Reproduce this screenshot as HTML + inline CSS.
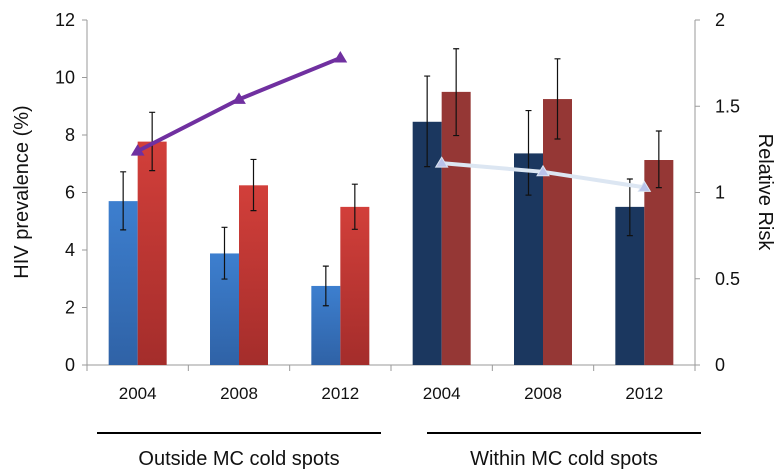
<!DOCTYPE html>
<html><head><meta charset="utf-8"><style>
html,body{margin:0;padding:0;background:#fff;}
svg{display:block;font-family:"Liberation Sans",sans-serif;}
</style></head><body>
<svg id="chart" width="784" height="471" viewBox="0 0 784 471">
<defs>
<linearGradient id="gBlue" x1="0" y1="0" x2="0" y2="1"><stop offset="0" stop-color="#3d7fcf"/><stop offset="1" stop-color="#2f62a6"/></linearGradient>
<linearGradient id="gRed" x1="0" y1="0" x2="0" y2="1"><stop offset="0" stop-color="#d23f3a"/><stop offset="1" stop-color="#a42d2b"/></linearGradient>
</defs>
<g id="axes"></g><g id="bars"></g><g id="errs"></g><g id="lines"></g><g id="labels"></g>
</svg>
<script>
const years = ["2004","2008","2012","2004","2008","2012"];
const groupLabels = ["Outside MC cold spots","Within MC cold spots"];
const leftTicks = [0,2,4,6,8,10,12];
const rightTicks = ["0","0.5","1","1.5","2"];
const maleValues = [5.7,3.88,2.75,8.46,7.36,5.5];
const maleLow = [4.7,2.99,2.06,6.9,5.91,4.5];
const maleHigh = [6.72,4.79,3.44,10.05,8.85,6.47];
const femaleValues = [7.77,6.25,5.5,9.5,9.25,7.13];
const femaleLow = [6.76,5.37,4.72,7.98,7.86,6.17];
const femaleHigh = [8.79,7.15,6.29,11.0,10.65,8.14];
const rrOutside = [1.24,1.54,1.78];
const rrWithin = [1.17,1.12,1.03];

const NS="http://www.w3.org/2000/svg";
const X0=87,X1=695,Y0=365,Y1=20;
const gw=(X1-X0)/6;
const yL=v=>Y0-(v/12)*(Y0-Y1);
const yR=v=>Y0-(v/2)*(Y0-Y1);
const xc=i=>X0+gw*(i+0.5);
function mk(tag,attrs,parent,text){const e=document.createElementNS(NS,tag);for(const k in attrs)e.setAttribute(k,attrs[k]);if(text!==undefined)e.textContent=text;document.getElementById(parent).appendChild(e);return e;}

// axes
let e=mk('line',{x1:X0,y1:Y1,x2:X0,y2:Y0,stroke:'#9a9a9a','stroke-width':1},'axes');


e=mk('line',{x1:X1,y1:Y1,x2:X1,y2:Y0+5,stroke:'#9a9a9a','stroke-width':1},'axes');


e=mk('line',{x1:X0-5,y1:Y0,x2:X1,y2:Y0,stroke:'#9a9a9a','stroke-width':1},'axes');


for(let i=0;i<=6;i++){
  e=mk('line',{x1:X0+gw*i,y1:Y0,x2:X0+gw*i,y2:Y0+6,stroke:'#9a9a9a'},'axes');
  
  
}
leftTicks.forEach(t=>{
  e=mk('line',{x1:X0-5,y1:yL(t),x2:X0,y2:yL(t),stroke:'#9a9a9a'},'axes');
  
  
  e=mk('text',{x:X0-12,y:yL(t)+6,'text-anchor':'end','font-size':18,fill:'#111'},'labels',String(t));
  
  
});
rightTicks.forEach(t=>{
  const v=parseFloat(t);
  e=mk('line',{x1:X1,y1:yR(v),x2:X1+5,y2:yR(v),stroke:'#9a9a9a'},'axes');
  
  
  e=mk('text',{x:X1+20,y:yR(v)+6,'text-anchor':'start','font-size':18,fill:'#111'},'labels',t);
  
  
});
// bars
const bw=29;
for(let i=0;i<6;i++){
  const inner=i>=3;
  e=mk('rect',{x:xc(i)-bw,y:yL(maleValues[i]),width:bw,height:Y0-yL(maleValues[i]),fill:inner?'#1b375f':'url(#gBlue)'},'bars');
  
  
  e=mk('rect',{x:xc(i),y:yL(femaleValues[i]),width:bw,height:Y0-yL(femaleValues[i]),fill:inner?'#953735':'url(#gRed)'},'bars');
  
  
  [[xc(i)-bw/2,maleLow[i],maleHigh[i]],[xc(i)+bw/2,femaleLow[i],femaleHigh[i]]].forEach(([x,lo,hi])=>{
    const g=mk('path',{d:`M${x},${yL(lo)}V${yL(hi)}M${x-3},${yL(lo)}H${x+3}M${x-3},${yL(hi)}H${x+3}`,stroke:'#111','stroke-width':1.2,fill:'none'},'errs');
    
    
  });
  e=mk('text',{x:xc(i),y:399,'text-anchor':'middle','font-size':17,fill:'#111'},'labels',years[i]);
  
  
}
// lines
function series(vals,off,color,mcol,stroke,name){
  const pts=vals.map((v,k)=>[xc(k+off),yR(v)]);
  const p=mk('polyline',{points:pts.map(p=>p.join(',')).join(' '),fill:'none',stroke:color,'stroke-width':stroke},'lines');
  
  
  pts.forEach(([x,y])=>{
    const m=mk('path',{d:`M${x},${y-6}L${x+6},${y+4}L${x-6},${y+4}Z`,fill:mcol,stroke:color,'stroke-width':1},'lines');
    
    
  });
}
series(rrOutside,0,'#7030a0','#7030a0',4,'rr-outside');
series(rrWithin,3,'#dce6f2','#b9c3ea',4,'rr-within');
// group underline + labels
[[97,381,0],[427,701,1]].forEach(([a,b,k])=>{
  e=mk('line',{x1:a,y1:433,x2:b,y2:433,stroke:'#000','stroke-width':2},'labels');
  
  
  e=mk('text',{x:(a+b)/2,y:465,'text-anchor':'middle','font-size':20,fill:'#111'},'labels',groupLabels[k]);
  
  
});
e=mk('text',{x:0,y:0,transform:'translate(28,192) rotate(-90)','text-anchor':'middle','font-size':20,fill:'#111'},'labels','HIV prevalence (%)');


e=mk('text',{x:0,y:0,transform:'translate(759,192) rotate(90)','text-anchor':'middle','font-size':20,fill:'#111'},'labels','Relative Risk');


</script>
</body></html>
